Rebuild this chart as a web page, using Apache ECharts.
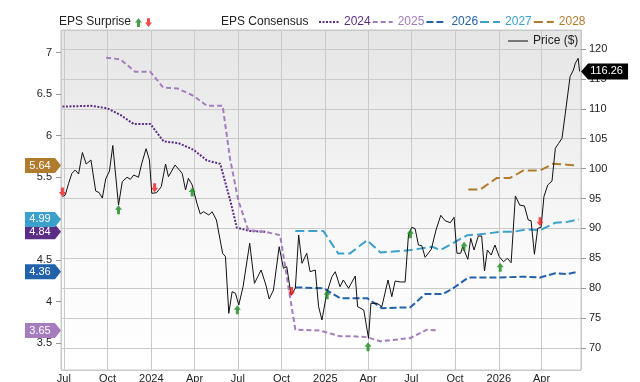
<!DOCTYPE html>
<html>
<head>
<meta charset="utf-8">
<script src="https://cdn.jsdelivr.net/npm/echarts@6/dist/echarts.min.js"></script>
<style>
    html, body { margin: 0; padding: 0; background: #fff; }
    #chart { width: 640px; height: 382px; }
</style>
</head>
<body>
<div id="chart"></div>
<script>
    // price, $ (right axis)
    const price = [
        ['2023-06-28', 95.3], ['2023-07-04', 95.58], ['2023-07-11', 97.54], ['2023-07-18', 99.21], ['2023-07-25', 99.77],
        ['2023-08-01', 99.1], ['2023-08-09', 102.69], ['2023-08-17', 100.77], ['2023-08-27', 101.44], ['2023-09-06', 96.25],
        ['2023-09-13', 96.0], ['2023-09-20', 95.08], ['2023-09-27', 98.26], ['2023-10-05', 99.6], ['2023-10-12', 103.86],
        ['2023-10-24', 93.91], ['2023-11-01', 97.84], ['2023-11-11', 98.55], ['2023-11-18', 98.21], ['2023-11-25', 98.93],
        ['2023-12-05', 98.55], ['2023-12-12', 100.89], ['2023-12-21', 103.33], ['2023-12-28', 101.44], ['2024-01-02', 95.87],
        ['2024-01-12', 95.97], ['2024-01-22', 96.97], ['2024-01-31', 100.77], ['2024-02-06', 98.65], ['2024-02-20', 100.6],
        ['2024-03-06', 99.21], ['2024-03-13', 96.42], ['2024-03-19', 98.38], ['2024-03-27', 97.26], ['2024-04-06', 94.2],
        ['2024-04-13', 92.41], ['2024-04-20', 92.79], ['2024-05-01', 92.24], ['2024-05-08', 92.79], ['2024-05-17', 91.4],
        ['2024-05-30', 85.84], ['2024-06-05', 85.27], ['2024-06-12', 75.8], ['2024-06-19', 79.41], ['2024-06-26', 79.15],
        ['2024-07-03', 77.19], ['2024-07-12', 80.25], ['2024-07-26', 87.51], ['2024-08-05', 80.82], ['2024-08-19', 83.04],
        ['2024-08-29', 80.54], ['2024-09-05', 78.19], ['2024-09-14', 79.7], ['2024-09-26', 86.94], ['2024-10-05', 83.33],
        ['2024-10-12', 83.6], ['2024-10-21', 78.86], ['2024-10-30', 79.98], ['2024-11-06', 88.9], ['2024-11-13', 84.16],
        ['2024-11-23', 85.84], ['2024-11-30', 82.76], ['2024-12-11', 83.04], ['2024-12-18', 76.91], ['2024-12-25', 74.68],
        ['2025-01-04', 79.15], ['2025-01-15', 81.92], ['2025-01-22', 82.76], ['2025-02-01', 80.25], ['2025-02-08', 81.37],
        ['2025-02-19', 79.98], ['2025-03-05', 82.04], ['2025-03-10', 76.91], ['2025-03-23', 76.35], ['2025-04-02', 71.62],
        ['2025-04-07', 77.47], ['2025-04-20', 77.47], ['2025-04-30', 76.91], ['2025-05-13', 81.37], ['2025-05-21', 78.58],
        ['2025-05-28', 81.2], ['2025-06-08', 81.04], ['2025-06-18', 81.04], ['2025-06-25', 88.9], ['2025-07-02', 90.18],
        ['2025-07-09', 89.95], ['2025-07-16', 87.22], ['2025-07-23', 87.11], ['2025-07-30', 85.17], ['2025-08-12', 86.5],
        ['2025-08-22', 89.73], ['2025-09-01', 92.19], ['2025-09-10', 91.29], ['2025-09-21', 90.95], ['2025-09-29', 91.86],
        ['2025-10-05', 85.84], ['2025-10-13', 85.84], ['2025-10-17', 86.94], ['2025-10-28', 84.83], ['2025-11-03', 88.34],
        ['2025-11-10', 86.39], ['2025-11-19', 88.73], ['2025-11-26', 88.73], ['2025-12-02', 82.88], ['2025-12-08', 86.39],
        ['2025-12-16', 85.55], ['2025-12-24', 87.22], ['2026-01-02', 85.27], ['2026-01-11', 84.43], ['2026-01-19', 85.0],
        ['2026-01-27', 84.26], ['2026-02-05', 95.42], ['2026-02-14', 93.91], ['2026-02-24', 93.75], ['2026-03-04', 91.4],
        ['2026-03-10', 91.29], ['2026-03-17', 85.67], ['2026-03-24', 90.02], ['2026-03-31', 90.18], ['2026-04-06', 95.3],
        ['2026-04-14', 97.26], ['2026-04-23', 97.93], ['2026-04-30', 103.39], ['2026-05-07', 104.23], ['2026-05-14', 105.07],
        ['2026-05-21', 109.25], ['2026-05-31', 115.37], ['2026-06-07', 116.49], ['2026-06-11', 117.61], ['2026-06-17', 118.44],
        ['2026-06-20', 116.26]
    ]

    // EPS consensus by fiscal year (left axis)
    const eps2024 = [
        ['2023-06-28', 6.35], ['2023-08-26', 6.36], ['2023-09-30', 6.33], ['2023-10-28', 6.25], ['2023-11-25', 6.14],
        ['2023-12-30', 6.14], ['2024-01-27', 5.93], ['2024-02-27', 5.91], ['2024-03-30', 5.83], ['2024-04-27', 5.70],
        ['2024-05-25', 5.66], ['2024-06-15', 5.22], ['2024-06-29', 4.89], ['2024-07-27', 4.85], ['2024-08-28', 4.84]
    ]
    const eps2025 = [
        ['2023-09-28', 6.94], ['2023-10-28', 6.92], ['2023-11-28', 6.77], ['2023-12-30', 6.77], ['2024-01-26', 6.58],
        ['2024-02-25', 6.57], ['2024-03-30', 6.48], ['2024-04-27', 6.36], ['2024-05-30', 6.36], ['2024-06-15', 5.71],
        ['2024-07-02', 5.22], ['2024-07-23', 4.86], ['2024-08-28', 4.84], ['2024-09-28', 4.80], ['2024-10-30', 3.66],
        ['2024-12-21', 3.65], ['2025-02-01', 3.58], ['2025-03-01', 3.58], ['2025-03-30', 3.57], ['2025-04-27', 3.52],
        ['2025-06-29', 3.56], ['2025-08-03', 3.66], ['2025-08-27', 3.65]
    ]
    const eps2026 = [
        ['2024-10-30', 4.17], ['2024-12-28', 4.16], ['2025-02-01', 4.04], ['2025-03-30', 4.04], ['2025-04-30', 3.92],
        ['2025-06-29', 3.93], ['2025-07-30', 4.09], ['2025-09-06', 4.09], ['2025-09-27', 4.16], ['2025-10-29', 4.29],
        ['2026-01-04', 4.29], ['2026-02-22', 4.30], ['2026-03-29', 4.29], ['2026-04-30', 4.34], ['2026-05-25', 4.33],
        ['2026-06-17', 4.36]
    ]
    const eps2027 = [
        ['2024-10-30', 4.85], ['2024-12-28', 4.85], ['2025-01-28', 4.58], ['2025-02-22', 4.58], ['2025-03-30', 4.74],
        ['2025-04-27', 4.59], ['2025-06-29', 4.62], ['2025-08-14', 4.66], ['2025-08-31', 4.62], ['2025-10-27', 4.80],
        ['2025-11-23', 4.81], ['2026-01-04', 4.84], ['2026-01-31', 4.84], ['2026-03-02', 4.87], ['2026-03-29', 4.86],
        ['2026-04-30', 4.95], ['2026-05-25', 4.96], ['2026-06-19', 4.99]
    ]
    const eps2028 = [
        ['2025-10-29', 5.35], ['2025-11-23', 5.35], ['2025-12-28', 5.49], ['2026-01-25', 5.49], ['2026-02-22', 5.58],
        ['2026-03-29', 5.58], ['2026-04-25', 5.66], ['2026-05-25', 5.65], ['2026-06-17', 5.64]
    ]

    // EPS surprise markers, placed on the price scale
    const beats = [
        ['2023-10-24', 93.1], ['2024-03-27', 96.1], ['2024-06-30', 76.4], ['2025-01-05', 78.9],
        ['2025-04-01', 70.2], ['2025-06-29', 89.1], ['2025-10-20', 87.0], ['2026-01-04', 83.5]
    ]
    const misses = [
        ['2023-06-28', 96.1], ['2024-01-08', 96.8], ['2024-10-22', 79.45], ['2026-03-29', 91.1]
    ]

    const xMin = '2023-06-25'
    const xMax = '2026-06-23'
    const MONTHS = ['Jan', 'Feb', 'Mar', 'Apr', 'May', 'Jun', 'Jul', 'Aug', 'Sep', 'Oct', 'Nov', 'Dec']
    const FONT = '"Liberation Sans", Arial, sans-serif'

    const upArrow = 'path://M4,0 L8,5 L5.7,5 L5.7,10 L2.3,10 L2.3,5 L0,5 Z'
    const downArrow = 'path://M2.3,0 L5.7,0 L5.7,5 L8,5 L4,10 L0,5 L2.3,5 Z'
    const leftBadge = 'path://M0,0 L30,0 L36,8 L30,16 L0,16 Z'
    const rightBadge = 'path://M0,8 L7,0 L47,0 L47,16 L7,16 Z'

    const colors = {
        '2024': '#5c2d85',
        '2025': '#a57dbf',
        '2026': '#2162aa',
        '2027': '#3ca0cc',
        '2028': '#b07b2c'
    }

    function consensus (name, data, dash) {
        const color = colors[name]
        const last = data[data.length - 1][1]
        return {
            name,
            type: 'line',
            yAxisIndex: 0,
            data,
            symbol: 'none',
            clip: false,
            z: 3,
            lineStyle: { color, width: 2, type: dash },
            itemStyle: { color },
            markPoint: {
                symbol: leftBadge,
                symbolSize: [36, 15],
                symbolOffset: [-18, 0],
                itemStyle: { color },
                label: {
                    show: true,
                    color: '#fff',
                    fontSize: 11,
                    fontFamily: FONT,
                    offset: [-3, 0],
                    formatter: () => last.toFixed(2)
                },
                emphasis: { disabled: true },
                data: [{ coord: [xMin, last] }]
            }
        }
    }

    const lastPrice = price[price.length - 1]

    const chart = echarts.init(document.getElementById('chart'))
    const option = {
        animation: false,
        textStyle: { fontFamily: FONT },
        title: [
            {
                text: 'EPS Surprise',
                left: 59,
                top: 16,
                padding: 0,
                textStyle: { fontSize: 12, fontWeight: 'normal', color: '#222', fontFamily: FONT }
            },
            {
                text: 'EPS Consensus',
                left: 221,
                top: 16,
                padding: 0,
                textStyle: { fontSize: 12, fontWeight: 'normal', color: '#222', fontFamily: FONT }
            }
        ],
        legend: [
            {
                data: ['Beat', 'Miss'],
                left: 135,
                top: 17,
                padding: 0,
                itemWidth: 7,
                itemHeight: 11,
                itemGap: 3,
                selectedMode: false,
                formatter: () => ''
            },
            {
                data: ['2024', '2025', '2026', '2027', '2028'].map(n => ({ name: n, textStyle: { color: colors[n] } })),
                left: 318,
                top: 16,
                padding: 0,
                itemWidth: 20,
                itemHeight: 14,
                itemGap: 1,
                selectedMode: false,
                itemStyle: { opacity: 0 },
                textStyle: { fontSize: 12, fontFamily: FONT }
            },
            {
                data: [{
                    name: 'Price ($)',
                    lineStyle: { color: '#777', width: 2, type: 'solid' }
                }],
                left: 507,
                top: 35,
                padding: 0,
                itemWidth: 20,
                itemHeight: 14,
                selectedMode: false,
                itemStyle: { opacity: 0 },
                textStyle: { fontSize: 12, color: '#222', fontFamily: FONT }
            }
        ],
        grid: {
            left: 61,
            right: 59,
            top: 30,
            bottom: 12,
            show: true,
            borderColor: '#c6c6c6',
            borderWidth: 1,
            outerBoundsMode: 'none',
            backgroundColor: new echarts.graphic.LinearGradient(0, 0, 0, 1, [
                { offset: 0, color: '#e5e5e5' },
                { offset: 0.7, color: '#fbfbfb' },
                { offset: 1, color: '#ffffff' }
            ])
        },
        xAxis: {
            type: 'time',
            min: xMin,
            max: xMax,
            splitNumber: 12,
            axisLine: { show: false },
            axisTick: { show: false },
            splitLine: { show: true, lineStyle: { color: '#cacaca', width: 1 } },
            axisLabel: {
                fontSize: 11,
                color: '#222',
                margin: 3,
                showMinLabel: false,
                showMaxLabel: false,
                hideOverlap: false,
                formatter: (v) => {
                    const d = new Date(v)
                    if (d.getDate() !== 1) return ''
                    return d.getMonth() === 0 ? String(d.getFullYear()) : MONTHS[d.getMonth()]
                }
            }
        },
        yAxis: [
            {
                type: 'value',
                position: 'left',
                min: 3.174,
                max: 7.274,
                splitNumber: 8,
                axisLine: { show: false },
                axisTick: { show: true, length: 5, lineStyle: { color: '#999' } },
                splitLine: { show: false },
                axisLabel: {
                    fontSize: 11,
                    color: '#222',
                    margin: 9,
                    showMinLabel: false,
                    showMaxLabel: false
                }
            },
            {
                type: 'value',
                position: 'right',
                min: 66.32,
                max: 123.18,
                splitNumber: 11,
                axisLine: { show: false },
                axisTick: { show: true, length: 5, lineStyle: { color: '#999' } },
                splitLine: { show: true, lineStyle: { color: '#cacaca', width: 1 } },
                axisLabel: {
                    fontSize: 11,
                    color: '#222',
                    margin: 8,
                    showMinLabel: false,
                    showMaxLabel: false
                }
            }
        ],
        series: [
            consensus('2024', eps2024, [2, 1.5]),
            consensus('2025', eps2025, [5, 3]),
            consensus('2026', eps2026, [7, 3]),
            consensus('2027', eps2027, [9, 4]),
            consensus('2028', eps2028, [9, 4]),
            {
                name: 'Price ($)',
                type: 'line',
                yAxisIndex: 1,
                data: price,
                symbol: 'none',
                clip: false,
                z: 4,
                lineStyle: { color: '#111', width: 1 },
                itemStyle: { color: '#777' },
                markPoint: {
                    symbol: rightBadge,
                    symbolSize: [47, 16],
                    symbolOffset: [25, 0],
                    itemStyle: { color: '#000' },
                    label: {
                        show: true,
                        color: '#fff',
                        fontSize: 11,
                        fontFamily: FONT,
                        offset: [2, 0],
                        formatter: () => lastPrice[1].toFixed(2)
                    },
                    emphasis: { disabled: true },
                    data: [{ coord: lastPrice }]
                }
            },
            {
                name: 'Beat',
                type: 'scatter',
                yAxisIndex: 1,
                data: beats,
                symbol: upArrow,
                symbolSize: [7, 9],
                z: 5,
                itemStyle: { color: '#17891a' }
            },
            {
                name: 'Miss',
                type: 'scatter',
                yAxisIndex: 1,
                data: misses,
                symbol: downArrow,
                symbolSize: [7, 9],
                z: 5,
                itemStyle: { color: '#f41c1c' }
            }
        ]
    }
    chart.setOption(option)
</script>
</body>
</html>
